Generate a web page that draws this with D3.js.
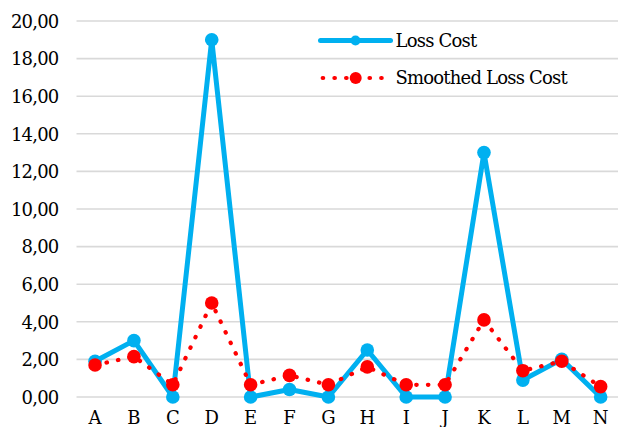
<!DOCTYPE html>
<html>
<head>
<meta charset="utf-8">
<script src="https://cdn.jsdelivr.net/npm/d3@7/dist/d3.min.js"></script>
<style>
  html, body { margin: 0; padding: 0; background: #fff; }
</style>
</head>
<body>
<svg id="chart" width="618" height="427"></svg>
<script>
// Categories and series
const categories = ["A","B","C","D","E","F","G","H","I","J","K","L","M","N"];
const lossCost = [1.9, 3.0, 0.0, 19.0, 0.0, 0.4, 0.0, 2.5, 0.0, 0.0, 13.0, 0.9, 2.0, 0.0];
const smoothedLossCost = [1.7, 2.15, 0.65, 5.0, 0.65, 1.15, 0.65, 1.6, 0.65, 0.65, 4.1, 1.4, 1.9, 0.55];
const yTicks = [0, 2, 4, 6, 8, 10, 12, 14, 16, 18, 20];
const seriesNames = ["Loss Cost", "Smoothed Loss Cost"];

const blue = "#00b0f0";
const red = "#ff0000";
const fontSize = 18;
const fontFamily = "DejaVu Serif";
const letterSpacing = "-0.8px";

const svg = d3.select("#chart");

const x = d3.scaleBand().domain(categories).range([75.6, 620.1]);
const y = d3.scaleLinear().domain([0, 20]).range([397, 21]);
const cx = d => x(d) + x.bandwidth() / 2;

const locale = d3.formatLocale({ decimal: ",", thousands: ".", grouping: [3], currency: ["", ""] });
const fmt = locale.format(".2f");

// Horizontal gridlines
svg.append("g")
  .selectAll("line")
  .data(yTicks)
  .join("line")
  .attr("x1", 76.5).attr("x2", 618)
  .attr("y1", d => y(d)).attr("y2", d => y(d))
  .attr("stroke", "#d9d9d9").attr("stroke-width", 1.6);

// Y axis labels
const yAxis = d3.axisLeft(y).tickValues(yTicks).tickFormat(fmt).tickSize(0).tickPadding(0);
const gy = svg.append("g").attr("transform", "translate(58.5,0)").call(yAxis);
gy.select(".domain").remove();
gy.attr("font-size", fontSize).attr("font-family", fontFamily);
gy.selectAll("text")
  .attr("fill", "#000").attr("dy", "0.35em")
  .style("letter-spacing", letterSpacing);

// X axis labels
const xAxis = d3.axisBottom(x).tickSize(0).tickPadding(0);
const gx = svg.append("g").attr("transform", "translate(0,411.5)").call(xAxis);
gx.select(".domain").remove();
gx.attr("font-size", fontSize).attr("font-family", fontFamily);
gx.selectAll("text").attr("fill", "#000").attr("dy", "0.71em");

// Loss Cost series
const line = d3.line().x((d, i) => cx(categories[i])).y(d => y(d));
svg.append("path")
  .datum(lossCost)
  .attr("d", line)
  .attr("fill", "none")
  .attr("stroke", blue).attr("stroke-width", 5)
  .attr("stroke-linejoin", "round");
svg.append("g")
  .selectAll("circle")
  .data(lossCost)
  .join("circle")
  .attr("cx", (d, i) => cx(categories[i]))
  .attr("cy", d => y(d))
  .attr("r", 6.8)
  .attr("fill", blue);

// Smoothed Loss Cost series (round-dot line)
svg.append("path")
  .datum(smoothedLossCost)
  .attr("d", line)
  .attr("fill", "none")
  .attr("stroke", red).attr("stroke-width", 4.2)
  .attr("stroke-linecap", "round")
  .attr("stroke-dasharray", "0.5 11.2");
svg.append("g")
  .selectAll("circle")
  .data(smoothedLossCost)
  .join("circle")
  .attr("cx", (d, i) => cx(categories[i]))
  .attr("cy", d => y(d))
  .attr("r", 6.8)
  .attr("fill", red);

// Legend
const legend = svg.append("g")
  .attr("font-family", fontFamily)
  .attr("font-size", fontSize);
const legendRows = [
  { name: seriesNames[0], y: 40.5 },
  { name: seriesNames[1], y: 78 }
];
// Loss Cost entry
legend.append("line")
  .attr("x1", 320.5).attr("x2", 390.5)
  .attr("y1", legendRows[0].y).attr("y2", legendRows[0].y)
  .attr("stroke", blue).attr("stroke-width", 5).attr("stroke-linecap", "round");
legend.append("circle")
  .attr("cx", 355.5).attr("cy", legendRows[0].y).attr("r", 5)
  .attr("fill", blue);
// Smoothed Loss Cost entry
legend.append("line")
  .attr("x1", 322.7).attr("x2", 390.5)
  .attr("y1", legendRows[1].y).attr("y2", legendRows[1].y)
  .attr("stroke", red).attr("stroke-width", 4.2)
  .attr("stroke-linecap", "round")
  .attr("stroke-dasharray", "0.5 11.2");
legend.append("circle")
  .attr("cx", 355.7).attr("cy", legendRows[1].y).attr("r", 6)
  .attr("fill", red);
legend.selectAll("text")
  .data(legendRows)
  .join("text")
  .attr("x", 395.5)
  .attr("y", d => d.y)
  .attr("dy", "0.35em")
  .attr("fill", "#000")
  .style("letter-spacing", letterSpacing)
  .text(d => d.name);
</script>
</body>
</html>
